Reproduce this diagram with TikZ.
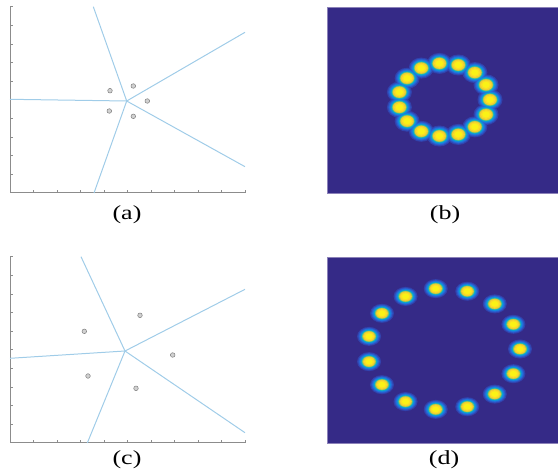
\documentclass[tikz,border=0pt]{standalone}
\usepackage{fontspec}
\setmainfont{Liberation Serif}
\begin{document}
\begin{tikzpicture}[x=1pt,y=-1pt,
  axisline/.style={draw=black!45,line width=0.6pt},
  tickmark/.style={draw=black!45,line width=0.5pt},
  vorline/.style={draw=vblue,line width=1.0pt},
  sample/.style={circle,draw=black!50,fill=black!18,line width=0.5pt,inner sep=0pt,minimum size=4.6pt},
  caption/.style={font=\fontsize{20}{24}\selectfont,inner sep=0pt},
  heatbox/.style={fill=pbg,draw=pborder,line width=0.8pt}]
\definecolor{vblue}{RGB}{160,204,232}
\definecolor{pbg}{RGB}{53,42,135}
\definecolor{pborder}{RGB}{140,130,185}
\definecolor{LA}{RGB}{50,66,172}
\definecolor{LB}{RGB}{44,88,200}
\definecolor{LC}{RGB}{35,110,218}
\definecolor{LD}{RGB}{22,132,224}
\definecolor{LE}{RGB}{10,156,215}
\definecolor{LF}{RGB}{15,177,195}
\definecolor{LG}{RGB}{70,190,150}
\definecolor{LH}{RGB}{160,195,85}
\definecolor{LI}{RGB}{235,205,50}
\definecolor{LJ}{RGB}{250,222,38}
\definecolor{LK}{RGB}{250,242,22}
\newcommand{\capt}[1]{\scalebox{1.3}[1]{#1}}
\useasboundingbox (0,0) rectangle (558,474);

% ---------- panel (a) ----------
\draw[axisline] (10,6.7) -- (10,192.7) -- (245,192.7);
\foreach \k in {0,...,10}{
  \draw[tickmark] (10,{6.7+\k*18.6}) -- (12.5,{6.7+\k*18.6});
  \draw[tickmark] ({10+\k*23.5},192.7) -- ({10+\k*23.5},190.2);
}
\coordinate (ac) at (126.7,101);
\coordinate (at) at (93.3,6.7);
\coordinate (al) at (10,99.3);
\coordinate (ab) at (94,193);
\coordinate (aur) at (245,32.3);
\coordinate (alr) at (245,166.7);
\foreach \e in {at,al,ab,aur,alr} \draw[vorline] (ac) -- (\e);
\node[sample] (a1) at (110,90.7) {};
\node[sample] (a2) at (133.3,86) {};
\node[sample] (a3) at (147.3,101) {};
\node[sample] (a4) at (133.3,116.3) {};
\node[sample] (a5) at (109.3,111) {};
\node[caption] (la) at (127,214.5) {\capt{(a)}};

% ---------- panel (c) ----------
\draw[axisline] (10,256.7) -- (10,442.7) -- (245,442.7);
\foreach \k in {0,...,10}{
  \draw[tickmark] (10,{256.7+\k*18.6}) -- (12.5,{256.7+\k*18.6});
  \draw[tickmark] ({10+\k*23.5},442.7) -- ({10+\k*23.5},440.2);
}
\coordinate (cc) at (125,351);
\coordinate (ct) at (81,256.7);
\coordinate (cl) at (10,358.3);
\coordinate (cb) at (87.3,443);
\coordinate (cur) at (245,289.3);
\coordinate (clr) at (245,432.7);
\foreach \e in {ct,cl,cb,cur,clr} \draw[vorline] (cc) -- (\e);
\node[sample] (c1) at (84.3,331.3) {};
\node[sample] (c2) at (140,315.3) {};
\node[sample] (c3) at (172.7,355) {};
\node[sample] (c4) at (136,388.3) {};
\node[sample] (c5) at (88,376) {};
\node[caption] (lc) at (127,460) {\capt{(c)}};

% ---------- panel (b) ----------
\draw[heatbox] (327.3,7.3) rectangle (558,193.3);
\foreach \s/\c in {1.0/LA,0.9/LB,0.82/LC,0.75/LD,0.69/LE,0.64/LF,0.6/LG,0.56/LH,0.52/LI,0.43/LJ,0.3/LK}{
  \foreach \k in {0,...,14}{
    \fill[\c] ({444.2+45.8*cos(\k*24)},{99.7-36.5*sin(\k*24)})
      ellipse [x radius={12.5*\s pt}, y radius={10.5*\s pt}];
  }
}
\node[caption] (lb) at (445,214.5) {\capt{(b)}};

% ---------- panel (d) ----------
\draw[heatbox] (327.3,257.3) rectangle (558,443.3);
\foreach \s/\c in {1.0/LA,0.9/LB,0.82/LC,0.75/LD,0.69/LE,0.64/LF,0.6/LG,0.56/LH,0.52/LI,0.43/LJ,0.3/LK}{
  \foreach \k in {0,...,14}{
    \fill[\c] ({443.7+76.3*cos(\k*24)},{349-60.7*sin(\k*24)})
      ellipse [x radius={12*\s pt}, y radius={9.5*\s pt}];
  }
}
\node[caption] (ld) at (444,460) {\capt{(d)}};
\end{tikzpicture}
\end{document}
